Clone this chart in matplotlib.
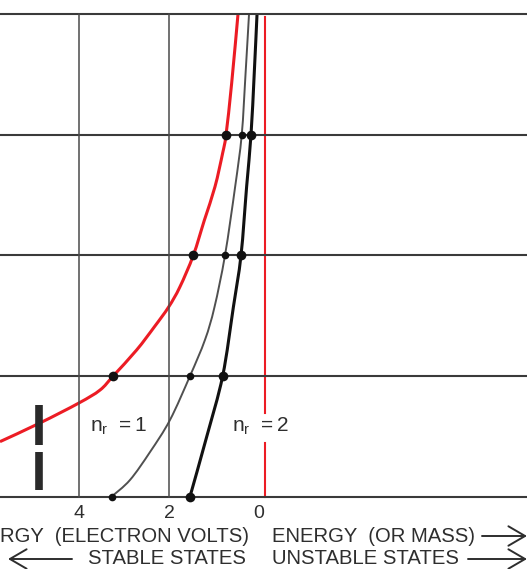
import numpy as np
import matplotlib
matplotlib.use("Agg")
import matplotlib.pyplot as plt
from matplotlib.path import Path
from matplotlib.patches import PathPatch

plt.rcParams['font.family'] = ['Liberation Sans', 'DejaVu Sans']

# ---- data ----
levels = [0, 1, 2, 3, 4]            # horizontal rule levels
grid_x = [4, 2]                     # vertical rules (electron volts)
tick_values = [4, 2, 0]
tick_labels = ["4", "2", "0"]

red_E = [5.756, 4.867, 4.0, 3.533, 3.24, 2.72, 2.32, 2.01, 1.76, 1.46,
         1.216, 0.978, 0.807, 0.733, 0.607, 0.467]
red_Y = [0.455, 0.610, 0.776, 0.883, 1.0, 1.215, 1.41, 1.571, 1.737, 2.0,
         2.29, 2.57, 2.85, 3.0, 3.43, 4.0]

grey_E = [3.273, 2.867, 2.42, 1.978, 1.533, 1.2, 0.99, 0.756, 0.53, 0.384, 0.30, 0.222]
grey_Y = [0, 0.137, 0.37, 0.635, 1.0, 1.30, 1.57, 2.0, 2.57, 3.0, 3.5, 4.0]

black_E = [1.533, 1.162, 0.807, 0.57, 0.40, 0.275, 0.178, 0.107, 0.044]
black_Y = [0, 0.496, 1.0, 1.57, 2.0, 2.57, 3.0, 3.5, 4.0]

red_line_E = -0.13
red_line_segments = [(3.975, 0.693), (0.444, 0.0)]

dot_levels = [0, 1, 2, 3]

RED = '#ec1c24'
INK = '#2e2e2e'

W, H = 529, 569
fig = plt.figure(figsize=(W / 100, H / 100), dpi=100)
ax = fig.add_axes([0, 0, 1, 1])
ax.axis('off')

# pixel -> data mapping (x: 45 px per eV, 0 eV at px 259; y: 120.55 px per level)
ax.set_xlim(259 / 45, (259 - W) / 45)
ax.set_ylim((496.5 - H) / 120.55, 496.5 / 120.55)

x_left, x_right = 259 / 45, (259 - 527) / 45


def smooth_path(xs, ys):
    """Cubic Bezier path through the read points (Catmull-Rom tangents)."""
    P = np.column_stack([xs, ys]).astype(float)
    verts = [P[0]]
    codes = [Path.MOVETO]
    n = len(P)
    for i in range(n - 1):
        p0 = P[i - 1] if i > 0 else P[i]
        p1, p2 = P[i], P[i + 1]
        p3 = P[i + 2] if i + 2 < n else P[i + 1]
        c1 = p1 + (p2 - p0) / 6.0
        c2 = p2 - (p3 - p1) / 6.0
        verts += [c1, c2, p2]
        codes += [Path.CURVE4] * 3
    return Path(verts, codes)


# horizontal rules
for lv in levels:
    ax.plot([x_left, x_right], [lv, lv], color='#3a3a3a', lw=1.5, zorder=3,
            solid_capstyle='butt')
# vertical rules
for gx in grid_x:
    ax.plot([gx, gx], [levels[0], levels[-1]], color='#4a4a4a', lw=1.1, zorder=3)

# red vertical line (with gap for label)
for y0, y1 in red_line_segments:
    ax.plot([red_line_E, red_line_E], [y0, y1], color=RED, lw=1.5, zorder=2)

# curves
for E, Y, c, lw in [(red_E, red_Y, RED, 2.2), (grey_E, grey_Y, '#505050', 1.4),
                    (black_E, black_Y, '#111111', 2.2)]:
    ax.add_patch(PathPatch(smooth_path(E, Y), facecolor='none', edgecolor=c,
                           lw=lw, zorder=2, capstyle='butt'))

# dots at level crossings
for E, Y, ms in [(red_E, red_Y, 7), (grey_E, grey_Y, 5.5), (black_E, black_Y, 7)]:
    E = np.array(E); Y = np.array(Y)
    m = np.isin(Y, dot_levels)
    ax.plot(E[m], Y[m], 'o', color='#111111', ms=ms, mew=0, zorder=5)

# scanned dark bar at left
bar_E = (259 - 39) / 45
for y0, y1 in [((496.5 - 405) / 120.55, (496.5 - 445) / 120.55),
               ((496.5 - 452) / 120.55, (496.5 - 490) / 120.55)]:
    ax.plot([bar_E, bar_E], [y0, y1], color='#2a2a2a', lw=5.5, zorder=4,
            solid_capstyle='butt')

# tick labels
for v, t in zip(tick_values, tick_labels):
    ax.text(v, (496.5 - 514) / 120.55, t, ha='center', va='center',
            fontsize=14, color=INK)


def fp(x, y):
    return x / W, 1 - y / H


# n_r labels
ax.text(*fp(118, 432), r'$\mathregular{n_r\ = 1}$', transform=fig.transFigure,
        ha='center', va='baseline', fontsize=15, color=INK)
ax.text(*fp(260, 432), r'$\mathregular{n_r\ = 2}$', transform=fig.transFigure,
        ha='center', va='baseline', fontsize=15, color=INK)

# bottom captions
fs = 14.6
ax.text(*fp(0, 536), 'RGY  (ELECTRON VOLTS)', transform=fig.transFigure,
        ha='left', va='center', fontsize=fs, color=INK)
ax.text(*fp(272, 536), 'ENERGY  (OR MASS)', transform=fig.transFigure,
        ha='left', va='center', fontsize=fs, color=INK)
ax.text(*fp(88, 559), 'STABLE STATES', transform=fig.transFigure,
        ha='left', va='center', fontsize=fs, color=INK)
ax.text(*fp(272, 559), 'UNSTABLE STATES', transform=fig.transFigure,
        ha='left', va='center', fontsize=fs, color=INK)

arrow_kw = dict(arrowstyle='->,head_length=0.6,head_width=0.35', lw=1.4,
                color=INK, shrinkA=0, shrinkB=0, mutation_scale=20)
ax.annotate('', xy=(527, H - 536), xytext=(482, H - 536),
            xycoords='figure pixels', textcoords='figure pixels', arrowprops=arrow_kw)
ax.annotate('', xy=(527, H - 559), xytext=(468, H - 559),
            xycoords='figure pixels', textcoords='figure pixels', arrowprops=arrow_kw)
ax.annotate('', xy=(8, H - 559), xytext=(72, H - 559),
            xycoords='figure pixels', textcoords='figure pixels', arrowprops=arrow_kw)

fig.savefig('out.png', dpi=100)
